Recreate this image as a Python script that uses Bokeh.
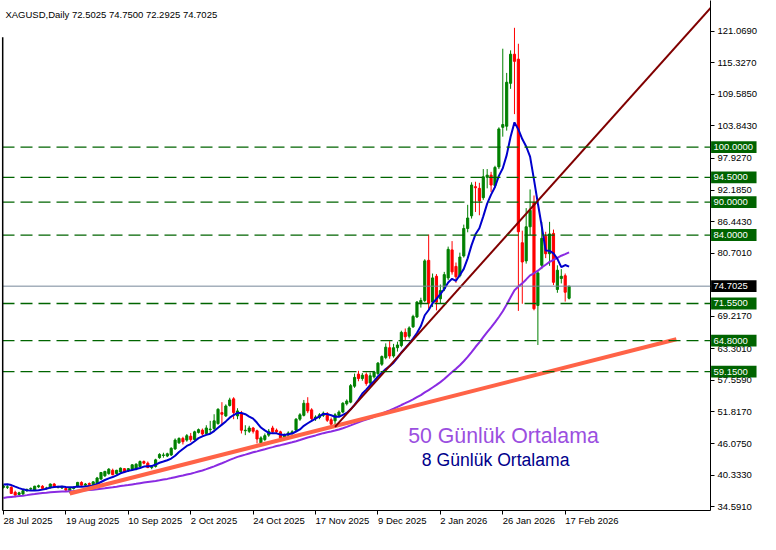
import pandas as pd
from bokeh.plotting import figure
from bokeh.models import ColumnDataSource, Range1d, FixedTicker, PrintfTickFormatter, Span, Label
from bokeh.core.properties import value
from bokeh.embed import file_html
from bokeh.resources import INLINE

FONT = "Liberation Sans"

header_text = "XAGUSD,Daily  72.5025 74.7500 72.2925 74.7025"

# trading days shown (weekdays, no bar on 25 Dec and 1 Jan)
dates = [d for d in pd.bdate_range("2025-07-28", "2026-02-18")
         if d.strftime("%m-%d") not in ("12-25", "01-01")]
date_keys = [d.strftime("%Y-%m-%d") for d in dates]

tick_dates = ["2025-07-28", "2025-08-19", "2025-09-10", "2025-10-02", "2025-10-24",
              "2025-11-17", "2025-12-09", "2026-01-02", "2026-01-26", "2026-02-17"]
tick_labels = ["28 Jul 2025", "19 Aug 2025", "10 Sep 2025", "2 Oct 2025", "24 Oct 2025",
               "17 Nov 2025", "9 Dec 2025", "2 Jan 2026", "26 Jan 2026", "17 Feb 2026"]

opens = [38.1, 38.1, 38.1, 37.2, 36.8, 36.9, 37.5, 37.8, 37.6, 38.2,
         38.3, 37.9, 38.0, 38.7, 38.1, 38.0, 37.9, 37.5, 37.9, 38.3,
         39.0, 38.5, 38.8, 38.6, 38.8, 39.6, 40.2, 40.6, 41.2, 40.6,
         40.9, 41.5, 41.1, 41.4, 41.4, 41.9, 42.8, 42.5, 41.7, 41.9,
         43.5, 43.9, 43.8, 44.0, 45.1, 46.2, 47.0, 46.7, 47.4, 46.8,
         48.1, 48.5, 47.9, 48.6, 48.8, 49.7, 51.7, 51.1, 53.0, 54.2,
         51.1, 51.6, 48.4, 48.3, 48.9, 48.4, 46.2, 46.8, 47.6, 48.9,
         48.5, 48.2, 47.1, 47.6, 47.9, 48.5, 50.5, 51.2, 53.4, 52.2,
         50.6, 50.8, 51.2, 51.5, 50.4, 50.2, 51.2, 51.8, 53.3, 53.6,
         56.5, 58.7, 57.9, 58.6, 57.1, 58.2, 58.8, 60.5, 61.7, 63.5,
         62.0, 63.5, 63.9, 66.3, 65.6, 67.3, 69.1, 71.5, 72.1, 79.4,
         71.8, 76.5, 72.4, 74.2, 76.2, 81.3, 78.3, 76.6, 80.2, 85.2,
         87.5, 92.8, 92.5, 90.8, 94.5, 94.9, 93.0, 96.4, 103.6, 103.8,
         111.6, 116.9, 116.0, 82.6, 79.3, 85.5, 89.9, 71.2, 78.5, 83.8,
         80.6, 84.3, 74.1, 76.1, 76.6, 72.5025]
highs = [38.6, 38.5, 38.3, 37.5, 37.3, 37.6, 37.9, 38.1, 38.4, 38.6,
         38.5, 38.2, 38.8, 38.9, 38.4, 38.4, 38.1, 38.0, 38.3, 39.1,
         39.2, 38.9, 39.0, 39.2, 40.0, 40.9, 41.1, 41.6, 41.5, 41.3,
         41.7, 41.6, 41.6, 42.3, 42.5, 43.0, 43.0, 42.8, 42.1, 43.3,
         44.3, 44.4, 44.4, 45.4, 47.0, 47.2, 47.3, 47.8, 48.0, 48.4,
         48.8, 48.8, 49.4, 50.2, 51.4, 52.5, 53.6, 53.2, 54.4, 54.5,
         52.5, 52.0, 49.4, 49.3, 49.1, 48.6, 47.4, 47.9, 48.7, 49.3,
         48.8, 48.4, 47.9, 48.3, 48.5, 50.7, 51.6, 54.0, 54.5, 52.5,
         51.2, 51.6, 51.9, 51.8, 50.8, 51.6, 52.1, 53.6, 54.1, 56.9,
         58.8, 59.3, 58.9, 59.0, 59.0, 59.3, 60.9, 62.1, 64.3, 64.7,
         64.2, 64.6, 66.6, 67.0, 67.4, 69.5, 72.0, 72.6, 79.6, 84.1,
         77.0, 76.9, 75.0, 77.3, 81.9, 82.9, 79.0, 80.8, 85.9, 89.5,
         93.6, 93.7, 93.5, 96.0, 96.0, 95.5, 96.6, 103.6, 117.9, 113.5,
         117.6, 121.7, 118.8, 84.8, 88.9, 92.3, 91.2, 77.6, 86.4, 84.6,
         86.4, 85.0, 78.5, 77.8, 77.0, 74.75]
lows = [37.9, 37.8, 36.9, 36.3, 36.6, 36.7, 37.3, 37.6, 37.5, 38.0,
        37.7, 37.7, 37.9, 38.1, 37.9, 37.8, 37.3, 37.0, 37.7, 38.1,
        38.4, 38.3, 38.4, 38.5, 38.7, 39.5, 40.0, 40.4, 40.3, 40.4,
        40.8, 40.7, 40.9, 41.2, 41.2, 41.8, 42.3, 41.6, 41.4, 41.7,
        43.3, 43.5, 43.6, 43.8, 44.9, 46.0, 45.9, 46.4, 46.4, 46.6,
        47.9, 47.5, 47.7, 47.9, 48.2, 49.5, 49.6, 50.9, 52.8, 50.5,
        50.5, 47.9, 47.6, 48.0, 47.9, 46.1, 45.6, 46.5, 47.3, 48.0,
        47.9, 46.9, 46.9, 47.4, 47.7, 48.3, 50.2, 51.0, 51.6, 50.1,
        50.2, 50.5, 50.9, 50.0, 49.1, 49.4, 50.9, 51.6, 53.0, 53.4,
        56.2, 57.4, 57.5, 56.6, 56.9, 57.9, 58.5, 60.2, 61.4, 61.5,
        61.7, 62.8, 63.6, 64.9, 65.2, 67.1, 68.9, 70.8, 71.8, 70.6,
        70.9, 70.3, 71.6, 73.8, 75.8, 76.8, 75.3, 76.3, 79.9, 84.5,
        87.0, 88.2, 87.6, 90.4, 92.5, 91.8, 92.6, 96.0, 101.9, 103.0,
        110.6, 106.0, 70.2, 71.5, 78.8, 84.0, 70.3, 64.0, 77.8, 79.8,
        78.4, 74.9, 73.5, 75.2, 71.9, 72.2925]
closes = [38.3, 38.2, 37.0, 36.7, 37.1, 37.5, 37.7, 37.9, 38.3, 38.4,
          37.9, 38.0, 38.7, 38.3, 38.2, 38.2, 37.6, 37.9, 38.1, 39.0,
          38.5, 38.7, 38.6, 39.1, 39.8, 40.8, 41.0, 41.4, 40.4, 41.2,
          41.6, 40.9, 41.5, 42.2, 42.3, 42.8, 42.5, 41.7, 41.9, 43.1,
          44.1, 44.0, 44.2, 45.2, 46.7, 47.0, 46.4, 47.5, 46.8, 48.2,
          48.6, 47.8, 48.9, 48.7, 50.2, 52.3, 51.4, 52.9, 54.0, 51.7,
          52.0, 48.5, 48.5, 48.9, 48.3, 46.9, 47.1, 47.5, 48.3, 48.2,
          48.2, 47.1, 47.6, 48.0, 48.2, 50.5, 51.3, 53.4, 52.0, 50.6,
          50.9, 51.3, 51.6, 50.3, 49.6, 51.3, 51.8, 53.4, 53.8, 56.6,
          58.1, 57.9, 58.5, 57.0, 58.4, 59.1, 60.7, 61.9, 63.6, 62.0,
          63.5, 64.0, 66.3, 65.5, 67.1, 69.2, 71.8, 72.1, 79.3, 71.6,
          76.2, 71.8, 73.9, 76.8, 81.4, 77.3, 76.4, 80.0, 85.2, 87.1,
          93.1, 92.6, 90.2, 94.6, 94.9, 93.1, 96.3, 103.3, 104.1, 111.8,
          116.9, 115.6, 84.6, 79.1, 85.5, 88.5, 70.6, 77.1, 83.4, 80.6,
          84.2, 75.4, 77.6, 76.5, 73.6, 74.7025]

# closes of the 49 sessions before 28 Jul 2025 (needed by the moving averages)
prior_closes = [32.4, 33.3, 33.1, 33.4, 33.4, 33.0, 33.0, 33.3, 33.0,
                34.5, 34.6, 34.5, 35.8, 36.0, 36.6, 36.3, 36.2, 36.3, 36.3,
                36.3, 36.9, 36.9, 36.2, 36.0, 36.1, 35.9, 36.1, 36.5, 36.0, 36.1,
                36.1, 36.5, 36.8, 37.0, 36.7, 36.8, 36.6, 37.0, 38.4, 38.2,
                37.7, 37.9, 37.9, 38.2, 39.0, 39.2, 39.3, 38.9, 38.2]

ma_fast_period = 8
ma_slow_period = 50

price_ticks = [34.591, 40.333, 46.075, 51.817, 57.559, 63.301, 69.217, 80.701,
               86.443, 92.185, 97.927, 103.843, 109.585, 115.327, 121.069]
level_prices = [100.0, 94.5, 90.0, 84.0, 71.55, 64.8, 59.15]
last_price = 74.7025

# trend lines: (bar index, price) anchors
steep_trend_x = [85, 182]
steep_trend_y = [49.1, 125.9]
support_trend_x = [17, 172.5]
support_trend_y = [36.98, 65.05]

# ---------------------------------------------------------------
X0, X1 = -0.25, 181.25
Y0, Y1 = 33.89, 126.67
W, H = 760, 534
BOX_W = 11.8       # price box width, in bars
BOX_H = 1.08       # price box half height, in price units
BORDER_TOP = 120.0  # the left frame line stops below the header

n = len(dates)
idx = list(range(n))
bull = "#008000"
bear = "#FF0000"
colors = [bull if c >= o else bear for o, c in zip(opens, closes)]
src = ColumnDataSource(dict(
    x=idx, o=opens, h=highs, l=lows, c=closes,
    top=[max(o, c) for o, c in zip(opens, closes)],
    bottom=[min(o, c) for o, c in zip(opens, closes)],
    color=colors))

all_closes = pd.Series(prior_closes + closes)
all_x = list(range(-len(prior_closes), n))
ma_fast = all_closes.rolling(ma_fast_period).mean()
ma_slow = all_closes.rolling(ma_slow_period).mean()
mask = ma_slow.notna()
ma_src = ColumnDataSource(dict(
    x=[x for x, m in zip(all_x, mask) if m],
    fast=[v for v, m in zip(ma_fast, mask) if m],
    slow=[v for v, m in zip(ma_slow, mask) if m]))

p = figure(width=W, height=H, output_backend="svg", toolbar_location=None,
           x_range=Range1d(X0, X1), y_range=Range1d(Y0, Y1),
           y_axis_location="right",
           min_border_left=2, min_border_top=0, min_border_right=0, min_border_bottom=0,
           background_fill_color="white", border_fill_color="white",
           outline_line_color=None)
p.grid.visible = False

# x axis: labels start at their tick (left aligned)
tick_pos = [date_keys.index(d) for d in tick_dates]
xa = p.xaxis[0]
xa.ticker = FixedTicker(ticks=tick_pos)
xa.major_label_overrides = {pos: lab for pos, lab in zip(tick_pos, tick_labels)}
xa.major_label_orientation = -1e-9
xa.major_label_text_font = FONT
xa.major_label_text_font_size = "9.5px"
xa.major_label_text_color = "black"
xa.major_label_standoff = 6
xa.axis_label_standoff = 0
xa.major_tick_in = 0
xa.major_tick_out = 4
xa.minor_tick_line_color = None
xa.axis_line_color = "black"
xa.major_tick_line_color = "black"

# y axis (right)
ya = p.yaxis[0]
ya.ticker = FixedTicker(ticks=price_ticks)
ya.formatter = PrintfTickFormatter(format="%.4f")
ya.major_label_text_font = FONT
ya.major_label_text_font_size = "9.5px"
ya.major_label_text_color = "black"
ya.major_label_standoff = 3
ya.axis_label_standoff = 0
ya.major_tick_in = 0
ya.major_tick_out = 4
ya.minor_tick_line_color = None
ya.axis_line_color = "black"
ya.major_tick_line_color = "black"

# left frame border (starts below the header, as in the terminal window)
p.segment(x0=[X0 + 0.05], y0=[Y0], x1=[X0 + 0.05], y1=[BORDER_TOP],
          line_color="black", line_width=1.5, level="overlay")

# horizontal levels
for lvl in level_prices:
    p.add_layout(Span(location=lvl, dimension="width", line_color="#006400",
                      line_dash="12 6", line_width=1.3))
p.add_layout(Span(location=last_price, dimension="width", line_color="#778899", line_width=1))

# candles
p.segment(x0="x", y0="l", x1="x", y1="h", color="color", line_width=1, source=src)
p.vbar(x="x", width=0.55, top="top", bottom="bottom", fill_color="color",
       line_color="color", line_width=1, source=src)

# moving averages
p.line("x", "slow", source=ma_src, color="#8A2BE2", line_width=2)
p.line("x", "fast", source=ma_src, color="#0000CD", line_width=2)

# trend lines
p.line(support_trend_x, support_trend_y, color="#FF6347", line_width=4)
p.line(steep_trend_x, steep_trend_y, color="#800000", line_width=2)

# header
p.add_layout(Label(x=0.5, y=124.05, text=header_text, text_font=FONT,
                   text_font_size="9.5px", text_color="black", text_baseline="alphabetic"))

# legends in the chart
p.add_layout(Label(x=103.75, y=47.5, text="50 Günlük Ortalama", text_font=FONT,
                   text_font_size="21.3px", text_color="#9B4FE0", text_baseline="alphabetic"))
p.add_layout(Label(x=107.25, y=43.0, text="8 Günlük Ortalama", text_font=FONT,
                   text_font_size="17.6px", text_color="#00008B", text_baseline="alphabetic"))

# price boxes on the right scale
box_y = level_prices + [last_price]
box_color = ["#006400"] * len(level_prices) + ["black"]
box_text = [f"{v:.4f}" for v in box_y]
box_src = ColumnDataSource(dict(
    y=box_y, color=box_color, text=box_text, x=[X1] * len(box_y),
    left=[X1 + 0.15] * len(box_y), right=[X1 + BOX_W] * len(box_y),
    top=[v + BOX_H for v in box_y], bottom=[v - BOX_H for v in box_y]))
p.quad(left="left", right="right", top="top", bottom="bottom",
       fill_color="color", line_color=None, source=box_src, level="overlay")
p.text(x="x", y="y", text="text", text_font=value(FONT), text_font_size="9.5px",
       text_color="white", text_align="left", text_baseline="middle",
       x_offset=3, source=box_src, level="overlay")

open("out.html", "w").write(file_html(p, INLINE))
